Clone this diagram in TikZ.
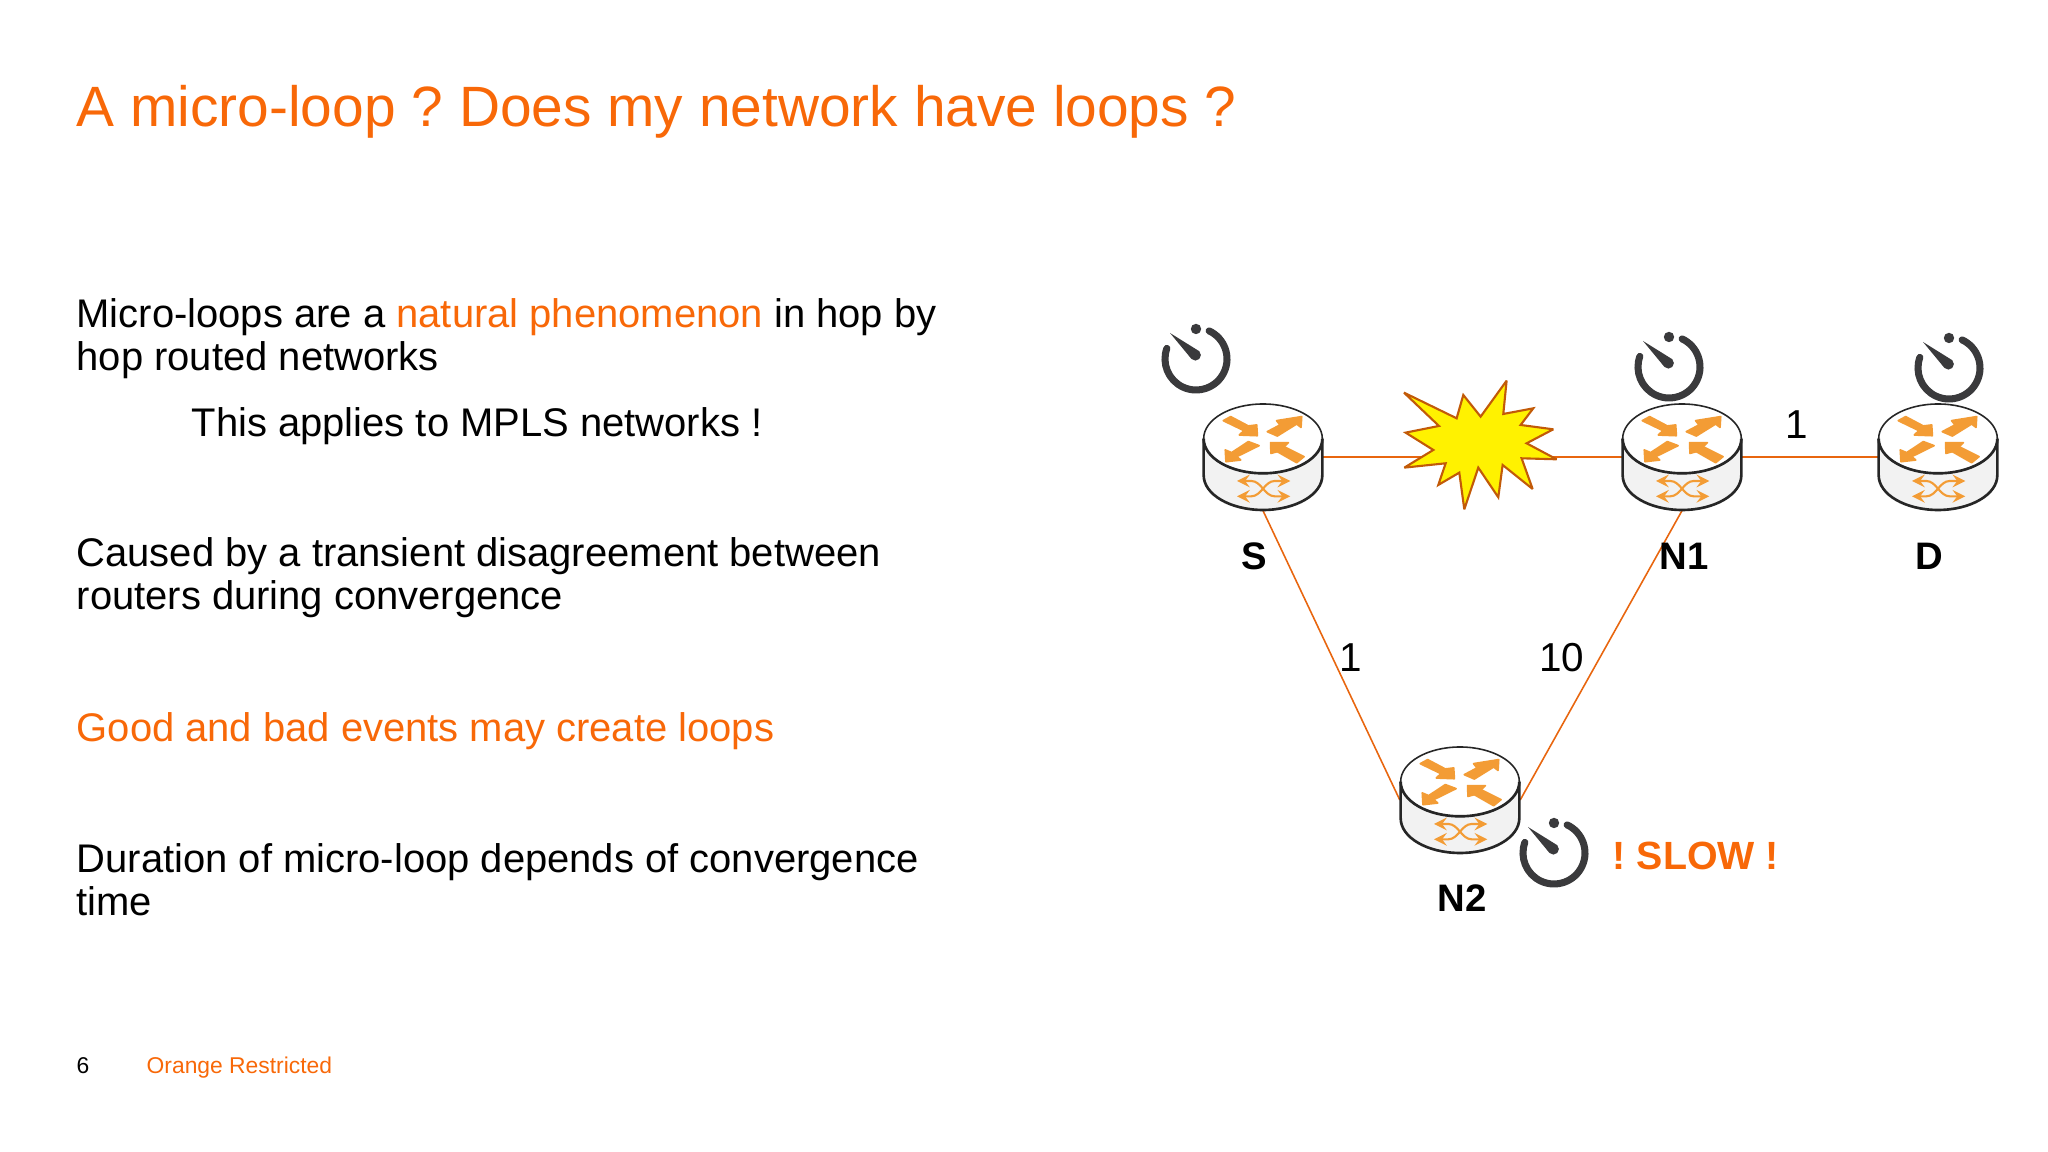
\documentclass[tikz,border=0pt]{standalone}
\usepackage{fontspec}
\setmainfont{Liberation Sans}
\frenchspacing
\definecolor{orangetext}{HTML}{F86808}
\definecolor{routerorange}{HTML}{F39C35}
\definecolor{linkorange}{HTML}{E8660F}
\definecolor{clockgrey}{HTML}{3A3A3C}
\definecolor{starborder}{HTML}{C25A08}
\tikzset{
	titletext/.style={font=\fontsize{16.18}{20}\selectfont, text=orangetext, anchor=base west, inner sep=0},
	bodytext/.style={font=\fontsize{11.37}{12.4}\selectfont, align=left, anchor=base west, inner sep=0},
	foottext/.style={font=\fontsize{6.5}{9}\selectfont, anchor=base west, inner sep=0},
	routerlabel/.style={font=\fontsize{10.9}{12}\selectfont\bfseries, inner sep=0},
	linklabel/.style={font=\fontsize{11.5}{12}\selectfont, inner sep=0},
	routerbox/.style={minimum width=1.19cm, minimum height=1.06cm, inner sep=0},
	link/.style={draw=linkorange, line width=0.45pt},
	arrowpart/.style={fill=routerorange, draw=routerorange, line width=0.5pt, line join=round},
	router/.pic={
		\begin{scope}[x=1cm/300,y=-1cm/300]
			\draw[fill=black!5, line width=0.75pt, draw=black!85] (-178,-55) -- (-178,55) arc[start angle=180, end angle=0, x radius=178, y radius=104] -- (178,-55);
			\draw[fill=white, line width=0.45pt, draw=black!85] (0,-55) ellipse[x radius=178, y radius=104];
			\draw[line width=0.75pt, draw=black!85] (-178,-55) arc[start angle=180, end angle=360, x radius=178, y radius=-104];
			\draw[arrowpart] (-119,-109) -- (-97,-121) -- (-44,-93) -- (-19,-96) -- (-17,-64) -- (-71,-66) -- (-57,-79) -- cycle;
			\draw[arrowpart] (13,-76) -- (51,-96) -- (41,-109) -- (116,-121) -- (114,-89) -- (101,-99) -- (43,-63) -- cycle;
			\draw[arrowpart] (-113,-21) -- (-111,14) -- (-67,9) -- (-79,-1) -- (-12,-34) -- (-44,-46) -- (-94,-13) -- cycle;
			\draw[arrowpart] (23,-43) -- (76,-43) -- (63,-31) -- (123,-1) -- (101,17) -- (43,-16) -- (24,-11) -- cycle;
			\draw[<->, >=stealth, draw=routerorange, line width=0.6pt] (-78,72) -- (-35,72) .. controls (-5,72) and (5,118) .. (35,118) -- (82,118);
			\draw[<->, >=stealth, draw=routerorange, line width=0.6pt] (-78,118) -- (-35,118) .. controls (-5,118) and (5,72) .. (35,72) -- (82,72);
		\end{scope}
	},
	timer/.pic={
		\draw[clockgrey, line width=2pt, line cap=round] (65:0.31) arc[start angle=65, end angle=-200, radius=0.31];
		\fill[clockgrey] (0,0.30) circle (0.052);
		\fill[clockgrey] (-0.26,0.26) -- (-0.045,-0.0) arc[start angle=225, end angle=405, radius=0.055] -- cycle;
	}
}

\begin{document}
\begin{tikzpicture}
	\useasboundingbox (0,0) rectangle (20.48,11.52);

	\node[titletext] (title) at (0.76,10.25) {A micro-loop ? Does my network have loops ?};

	\node[bodytext] (natural) at (0.76,7.81) {Micro-loops are a \textcolor{orangetext}{natural phenomenon} in hop by\\hop routed networks};
	\node[bodytext] (mpls) at (1.91,7.15) {This applies to MPLS networks !};
	\node[bodytext] (caused) at (0.76,5.42) {Caused by a transient disagreement between\\routers during convergence};
	\node[bodytext, text=orangetext] (events) at (0.76,4.10) {Good and bad events may create loops};
	\node[bodytext] (duration) at (0.76,2.36) {Duration of micro-loop depends of convergence\\time};

	\node[foottext] (page) at (0.76,0.785) {6};
	\node[foottext, text=orangetext] (restricted) at (1.46,0.785) {Orange Restricted};

	\node[routerbox] (S) at (12.63,6.95) {};
	\node[routerbox] (N1) at (16.82,6.95) {};
	\node[routerbox] (D) at (19.38,6.95) {};
	\node[routerbox] (N2) at (14.60,3.52) {};

	\draw[link] (S.east) -- (N1.west);
	\draw[link] (N1.east) -- (D.west);
	\draw[link] (S.south) -- (N2.west);
	\draw[link] (N2.east) -- (N1.south);

	\begin{scope}[shift={(11.40,8.52)},x=1cm/300,y=-1cm/300]
		\draw[fill=yellow, draw=starborder, line width=0.6pt, miter limit=3] (792,278) -- (950,355) -- (970,285) -- (1022,350) -- (1100,242) -- (1090,342) -- (1180,325) -- (1142,375) -- (1240,388) -- (1160,430) -- (1250,478) -- (1145,475) -- (1178,567) -- (1088,495) -- (1075,592) -- (1015,503) -- (973,628) -- (958,518) -- (895,555) -- (917,490) -- (793,503) -- (880,450) -- (797,398) -- (897,378) -- cycle;
	\end{scope}

	\foreach \r in {S,N1,D,N2} {
		\pic at (\r) {router};
	}

	\pic at (11.96,7.93) {timer};
	\pic at (16.69,7.85) {timer};
	\pic at (19.49,7.84) {timer};
	\pic at (15.54,2.99) {timer};

	\node[routerlabel] (Slabel) at (12.54,5.96) {S};
	\node[routerlabel] (N1label) at (16.84,5.96) {N1};
	\node[routerlabel] (Dlabel) at (19.29,5.96) {D};
	\node[routerlabel] (N2label) at (14.62,2.54) {N2};

	\node[linklabel] (costD) at (17.97,7.27) {1};
	\node[linklabel] (costS) at (13.51,4.94) {1};
	\node[linklabel] (costN1) at (15.62,4.94) {10};

	\node[font=\fontsize{11.2}{14}\selectfont\bfseries, text=orangetext, inner sep=0] (slow) at (16.96,2.96) {! SLOW !};
\end{tikzpicture}
\end{document}
